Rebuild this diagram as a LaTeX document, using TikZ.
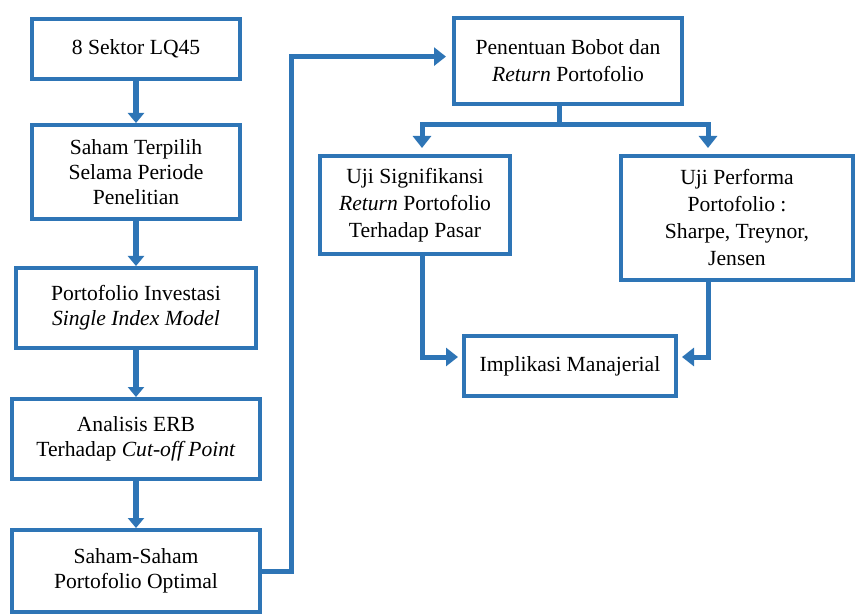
\documentclass[tikz,border=0pt]{standalone}
\usepackage{fontspec}
\setmainfont{Liberation Serif}
\usetikzlibrary{arrows.meta}
\definecolor{alurbiru}{RGB}{46,117,182}
\begin{document}
\begin{tikzpicture}[x=0.5pt,y=-0.5pt,
	kotak/.style={draw=alurbiru,line width=2pt,align=center,inner sep=2pt,font=\fontsize{10.8}{12.5}\selectfont},
	kotakr/.style={kotak,font=\fontsize{10.8}{13.5}\selectfont},
	panah/.style={draw=alurbiru,line width=3pt,-{Triangle[width=8pt,length=5pt]}},
	garis/.style={draw=alurbiru,line width=2.5pt},
	panahk/.style={garis,-{Triangle[width=9pt,length=6pt]},shorten >=3pt}]
	\useasboundingbox (0,0) rectangle (858,615);
	\node[kotak,minimum width=104pt,minimum height=30pt] (sektor) at (136,49) {8 Sektor LQ45};
	\node[kotak,minimum width=104pt,minimum height=47pt] (terpilih) at (136,172) {Saham Terpilih\\Selama Periode\\Penelitian};
	\node[kotak,minimum width=120pt,minimum height=40pt] (investasi) at (136,308) {Portofolio Investasi\\\textit{Single Index Model}};
	\node[kotak,minimum width=124pt,minimum height=40pt] (erb) at (136,439) {Analisis ERB\\Terhadap \textit{Cut-off Point}};
	\node[kotak,minimum width=124pt,minimum height=41pt] (optimal) at (136,571) {Saham-Saham\\Portofolio Optimal};
	\node[kotakr,minimum width=114pt,minimum height=43pt] (bobot) at (568,61) {Penentuan Bobot dan\\\textit{Return} Portofolio};
	\node[kotakr,minimum width=95pt,minimum height=49pt] (signif) at (415,205) {Uji Signifikansi\\\textit{Return} Portofolio\\Terhadap Pasar};
	\node[kotakr,minimum width=116pt,minimum height=62pt] (performa) at (737,218) {Uji Performa\\Portofolio :\\Sharpe, Treynor,\\Jensen};
	\node[kotak,minimum width=106pt,minimum height=30pt] (implikasi) at (570,366) {Implikasi Manajerial};
	\draw[panah] (sektor) -- (terpilih);
	\draw[panah] (terpilih) -- (investasi);
	\draw[panah] (investasi) -- (erb);
	\draw[panah] (erb) -- (optimal);
	\draw[panahk] (optimal.east) -- ++(29,0) |- ([yshift=2.2pt]bobot.west);
	\draw[garis] ([xshift=-4.5pt]bobot.south) -- ++(0,19) coordinate (cabang);
	\draw[panahk] (cabang) -| ([xshift=3.5pt]signif.north);
	\draw[panahk] (cabang) -| ([xshift=-14.5pt]performa.north);
	\draw[panahk,shorten >=2pt] ([xshift=3.5pt]signif.south) |- ([yshift=4.5pt]implikasi.west);
	\draw[panahk,shorten >=2pt] ([xshift=-14.5pt]performa.south) |- ([yshift=4.5pt]implikasi.east);
\end{tikzpicture}
\end{document}
